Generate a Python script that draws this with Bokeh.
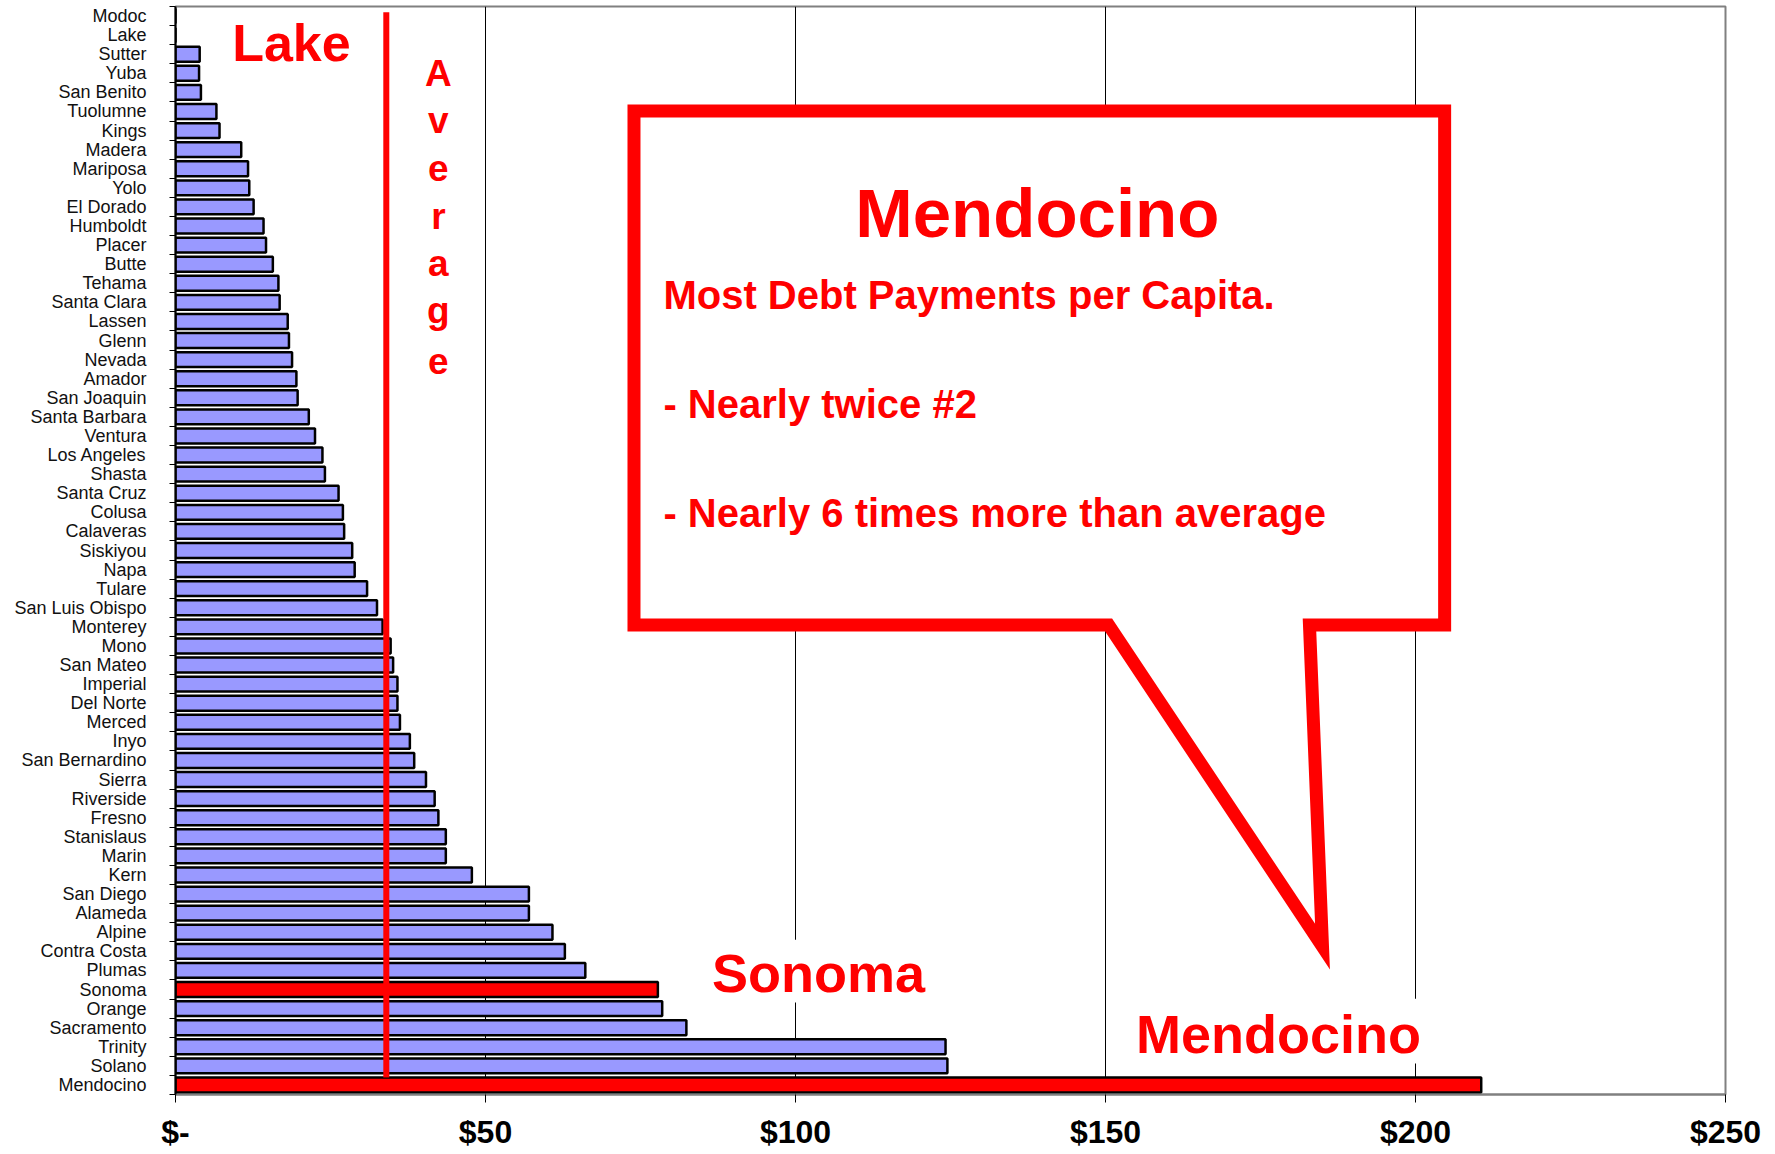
from bokeh.plotting import figure
from bokeh.models import FixedTicker, Range1d
from bokeh.core.properties import value
from bokeh.embed import file_html
from bokeh.resources import INLINE

# ---------------- data (top of chart to bottom) ----------------
counties = ["Modoc", "Lake", "Sutter", "Yuba", "San Benito", "Tuolumne", "Kings", "Madera",
            "Mariposa", "Yolo", "El Dorado", "Humboldt", "Placer", "Butte", "Tehama",
            "Santa Clara", "Lassen", "Glenn", "Nevada", "Amador", "San Joaquin",
            "Santa Barbara", "Ventura", "Los Angeles", "Shasta", "Santa Cruz", "Colusa",
            "Calaveras", "Siskiyou", "Napa", "Tulare", "San Luis Obispo", "Monterey", "Mono",
            "San Mateo", "Imperial", "Del Norte", "Merced", "Inyo", "San Bernardino", "Sierra",
            "Riverside", "Fresno", "Stanislaus", "Marin", "Kern", "San Diego", "Alameda",
            "Alpine", "Contra Costa", "Plumas", "Sonoma", "Orange", "Sacramento", "Trinity",
            "Solano", "Mendocino"]
debt_per_capita = [0.0, 0.0, 3.9, 3.8, 4.1, 6.6, 7.1, 10.6,
                   11.7, 11.9, 12.6, 14.2, 14.6, 15.7, 16.6,
                   16.8, 18.1, 18.3, 18.8, 19.5, 19.7,
                   21.5, 22.5, 23.7, 24.1, 26.3, 27.0,
                   27.2, 28.5, 28.9, 30.9, 32.5, 33.4, 34.7,
                   35.1, 35.8, 35.8, 36.2, 37.8, 38.5, 40.4,
                   41.8, 42.4, 43.6, 43.6, 47.8, 57.0, 57.0,
                   60.8, 62.8, 66.1, 77.8, 78.5, 82.4, 124.2,
                   124.5, 210.6]
highlighted = ["Sonoma", "Mendocino"]
average_value = 34.0
x_ticks = [0, 50, 100, 150, 200, 250]
x_tick_labels = ["$-", "$50", "$100", "$150", "$200", "$250"]

n = len(counties)
ypos = [n - 1 - i for i in range(n)]
colors = ["#FF0000" if c in highlighted else "#9999FF" for c in counties]

RED = "#FF0000"
SANS = "Liberation Sans, Arial, sans-serif"

p = figure(width=1765, height=1152, output_backend="svg", toolbar_location=None,
           x_range=Range1d(0, 250), y_range=Range1d(-0.5, n - 0.5),
           min_border_left=175, min_border_right=40, min_border_top=6, min_border_bottom=57)
p.background_fill_color = "white"
p.border_fill_color = "white"
p.outline_line_color = "#808080"
p.outline_line_width = 2

# grid
p.ygrid.grid_line_color = None
p.xgrid.ticker = FixedTicker(ticks=x_ticks)
p.xgrid.grid_line_color = "black"
p.xgrid.grid_line_width = 1

# x axis
p.xaxis.ticker = FixedTicker(ticks=x_ticks, minor_ticks=[])
p.xaxis.major_label_overrides = {t: l for t, l in zip(x_ticks, x_tick_labels)}
p.xaxis.major_label_text_font = SANS
p.xaxis.major_label_text_font_style = "bold"
p.xaxis.major_label_text_font_size = "32px"
p.xaxis.major_label_text_color = "black"
p.xaxis.major_label_standoff = 11
p.xaxis.major_tick_out = 8
p.xaxis.major_tick_in = 0
p.xaxis.major_tick_line_color = "black"
p.xaxis.axis_line_color = "#808080"
p.xaxis.axis_line_width = 2
p.xaxis.minor_tick_line_color = None

# y axis (labels at centres, ticks at category boundaries)
p.yaxis.ticker = FixedTicker(ticks=list(range(n)),
                             minor_ticks=[i - 0.5 for i in range(n + 1)])
p.yaxis.major_label_overrides = {yp: c for yp, c in zip(ypos, counties)}
p.yaxis.major_label_text_font = SANS
p.yaxis.major_label_text_font_size = "18px"
p.yaxis.major_label_text_color = "#111111"
p.yaxis.major_label_standoff = 23
p.yaxis.major_tick_out = 0
p.yaxis.major_tick_in = 0
p.yaxis.minor_tick_out = 6
p.yaxis.minor_tick_in = 0
p.yaxis.minor_tick_line_color = "black"
p.yaxis.axis_line_color = "black"
p.yaxis.axis_line_width = 2

# bars
p.hbar(y=ypos, right=debt_per_capita, left=0, height=0.78,
       fill_color=colors, line_color="black", line_width=2.5)

# average line
p.segment(x0=[average_value], y0=[0.39], x1=[average_value], y1=[56.2],
          line_color=RED, line_width=6)

# callout box with tail
p.patch(x=[73.95, 204.7, 204.7, 182.9, 185.0, 150.5, 73.95],
        y=[51.03, 51.03, 24.1, 24.1, 7.25, 24.1, 24.1],
        fill_color="white", line_color=RED, line_width=13, line_join="miter")

# white boxes behind the two bottom labels (interrupt the grid lines)
p.quad(left=[86.0, 154.0], right=[121.6, 201.6], bottom=[4.32, 1.12], top=[7.61, 4.52],
       fill_color="white", line_color=None)


def txt(x, y, s, size, align="center"):
    p.text(x=[x], y=[y], text=[s], text_align=align, text_baseline="middle",
           text_color=RED, text_font=value(SANS), text_font_style="bold",
           text_font_size=size)


txt(18.7, 54.57, "Lake", "52px")
p.text(x=[42.4] * 7, y=[53.01, 50.55, 48.03, 45.52, 43.06, 40.55, 37.93],
       text=list("Average"), text_align="center", text_baseline="middle",
       text_color=RED, text_font=value(SANS), text_font_style="bold",
       text_font_size="37px")
txt(139.0, 45.67, "Mendocino", "69px")
txt(78.7, 41.38, "Most Debt Payments per Capita.", "40px", "left")
txt(78.7, 35.69, "- Nearly twice #2", "40px", "left")
txt(78.7, 29.94, "- Nearly 6 times more than average", "40px", "left")
txt(103.7, 5.87, "Sonoma", "54px")
txt(177.9, 2.68, "Mendocino", "54px")

open("out.html", "w").write(file_html(p, INLINE))
